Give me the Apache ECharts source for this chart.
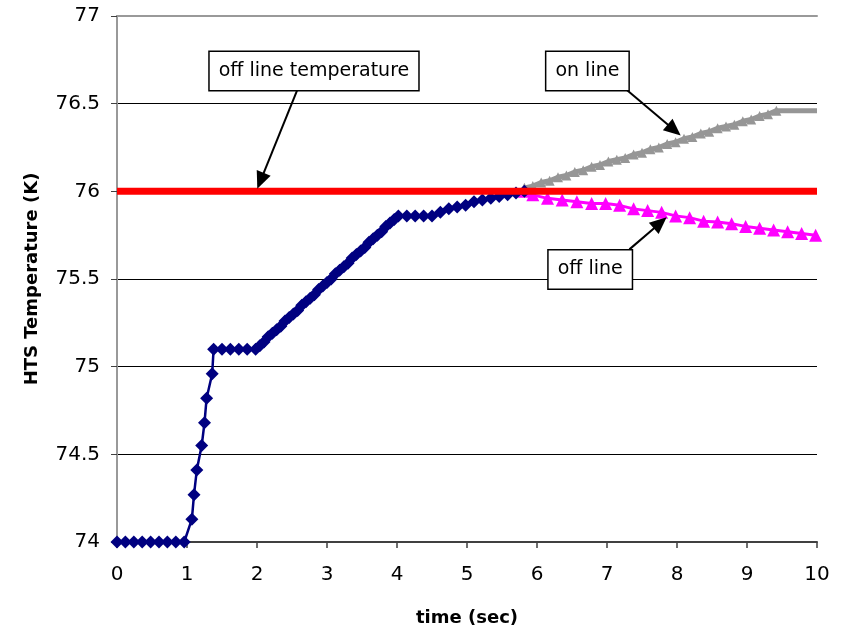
<!DOCTYPE html>
<html><head><meta charset="utf-8">
<script src="https://cdn.jsdelivr.net/npm/echarts@6/dist/echarts.min.js"></script>
<style>html,body{margin:0;padding:0;background:#fff}#c{width:841px;height:632px}</style>
</head><body><div id="c"></div>
<script>
// Blue: measured temperature (time, K)
const measuredT = [0,0.12,0.24,0.36,0.48,0.6,0.72,0.84,0.96,1.07,1.10,1.14,1.21,1.25,1.28,1.36,1.38,1.5,1.62,1.74,1.86,1.98,
  2.04,2.10,2.16,2.22,2.28,2.34,2.40,2.46,2.52,2.58,2.64,2.70,2.76,2.82,2.88,2.94,3.00,3.06,3.12,3.18,3.24,3.30,
  3.36,3.42,3.48,3.54,3.60,3.66,3.72,3.78,3.84,3.90,3.96,4.02,4.14,4.26,4.38,4.50,
  4.62,4.74,4.86,4.98,5.10,5.22,5.34,5.46,5.58,5.70,5.82];
const measuredK = [74,74,74,74,74,74,74,74,74,74.13,74.27,74.41,74.55,74.68,74.82,74.96,75.10,75.10,75.10,75.10,75.10,75.10,
  75.12,75.14,75.17,75.19,75.21,75.23,75.26,75.28,75.30,75.32,75.35,75.37,75.39,75.41,75.44,75.46,75.48,75.50,75.53,75.55,75.57,75.59,
  75.62,75.64,75.66,75.68,75.71,75.73,75.75,75.77,75.80,75.82,75.84,75.86,75.86,75.86,75.86,75.86,
  75.88,75.90,75.91,75.92,75.94,75.95,75.96,75.97,75.98,75.99,76.00];
// Gray: on line
const onLineT = [5.82,5.94,6.06,6.18,6.30,6.42,6.54,6.66,6.78,6.90,7.02,7.14,7.26,7.38,7.50,7.62,7.74,7.86,7.98,8.10,
  8.22,8.34,8.46,8.58,8.70,8.82,8.94,9.06,9.18,9.30,9.42,10.0];
const onLineK = [76.02,76.03,76.05,76.06,76.08,76.09,76.11,76.12,76.14,76.15,76.17,76.18,76.19,76.21,76.22,76.24,76.25,76.27,76.28,76.30,
  76.31,76.33,76.34,76.36,76.37,76.38,76.40,76.41,76.43,76.44,76.46,76.46];
// Magenta: off line
const offLineT = [5.82,5.94,6.15,6.36,6.57,6.78,6.98,7.18,7.38,7.58,7.78,7.98,8.18,8.38,8.58,8.78,8.98,9.18,9.38,9.58,9.78,9.98];
const offLineK = [76.00,75.98,75.96,75.95,75.94,75.93,75.93,75.92,75.90,75.89,75.88,75.86,75.85,75.83,75.825,75.815,75.80,75.79,75.78,75.77,75.76,75.75];
// Red: off line temperature threshold
const thresholdT = [0,10];
const thresholdK = [76,76];
const xTicks = {min:0, max:10, interval:1};
const yTicks = {min:74, max:77, interval:0.5};

const pair = (a,b)=>a.map((v,i)=>[v,b[i]]);
const FONT = 'DejaVu Sans';
const boxLabel = {show:true, position:'inside', color:'#000', fontFamily:FONT, fontSize:19, lineHeight:22,
  backgroundColor:'#fff', borderColor:'#000', borderWidth:1.5, padding:[8,9,8,9], formatter:p=>p.name};
const arrowLine = {color:'#000', width:2, type:'solid'};
const onLast = onLineT.length - 1;

const chart = echarts.init(document.getElementById('c'), null, {renderer:'canvas'});
chart.setOption({
  animation:false,
  backgroundColor:'#fff',
  grid:{left:117, right:24, top:16, bottom:90},
  xAxis:[{type:'value', min:xTicks.min, max:xTicks.max, interval:xTicks.interval,
    name:'time (sec)', nameLocation:'middle', nameGap:67,
    nameTextStyle:{fontFamily:FONT, fontSize:18, fontWeight:'bold', color:'#000'},
    axisLine:{lineStyle:{color:'#404040', width:2}},
    axisTick:{show:true, length:6, lineStyle:{color:'#404040', width:1.5}},
    axisLabel:{fontFamily:FONT, fontSize:20, color:'#000', margin:23},
    splitLine:{show:false}},
   {type:'value', position:'top', min:xTicks.min, max:xTicks.max, interval:xTicks.interval,
    axisLine:{show:true, lineStyle:{color:'#999', width:2}}, axisTick:{show:false},
    axisLabel:{show:false}, splitLine:{show:false}}],
  yAxis:[{type:'value', min:yTicks.min, max:yTicks.max, interval:yTicks.interval,
    name:'HTS Temperature (K)', nameLocation:'middle', nameGap:76, nameRotate:90,
    nameTextStyle:{fontFamily:FONT, fontSize:18, fontWeight:'bold', color:'#000'},
    axisLine:{show:true, lineStyle:{color:'#404040', width:1.5}},
    axisTick:{show:true, length:6, lineStyle:{color:'#404040'}},
    axisLabel:{fontFamily:FONT, fontSize:20, color:'#000', margin:17},
    splitLine:{show:true, lineStyle:{color:'#000', width:1}}},
   {type:'value', position:'right', min:yTicks.min, max:yTicks.max, interval:yTicks.interval,
    axisLine:{show:true, lineStyle:{color:'#999', width:2}}, axisTick:{show:false},
    axisLabel:{show:false}, splitLine:{show:false}}],
  series:[
    {name:'measured', type:'line', data:pair(measuredT, measuredK), symbol:'diamond', symbolSize:13,
     itemStyle:{color:'#000080'}, lineStyle:{color:'#000080', width:2.5}, z:3},
    {name:'on line', type:'line', data:pair(onLineT, onLineK),
     symbol:(v,p)=>p.dataIndex===onLast?'none':'triangle', symbolSize:10,
     itemStyle:{color:'#969696'}, lineStyle:{color:'#969696', width:5}, z:2},
    {name:'off line', type:'line', data:pair(offLineT, offLineK), symbol:'triangle', symbolSize:13,
     itemStyle:{color:'#ff00ff'}, lineStyle:{color:'#ff00ff', width:3}, z:2},
    {name:'off line temperature', type:'line', data:pair(thresholdT, thresholdK), symbol:'none',
     lineStyle:{color:'#ff0000', width:7}, z:4,
     markLine:{silent:true, symbol:['none','triangle'], symbolSize:[15,17], label:{show:false},
       lineStyle:arrowLine, animation:false,
       data:[
         [{coord:[2.586,76.589]},{coord:[2.05,76.06]}],
         [{coord:[7.25,76.589]},{coord:[7.96,76.35]}],
         [{coord:[7.32,75.669]},{coord:[7.76,75.82]}]
       ]},
     markPoint:{silent:true, symbol:'rect', symbolSize:1, itemStyle:{color:'rgba(0,0,0,0)'},
       label:boxLabel,
       data:[
         {name:'off line temperature', coord:[2.814,76.686]},
         {name:'on line', coord:[6.72,76.686]},
         {name:'off line', coord:[6.76,75.554]}
       ]}}
  ]
});
</script></body></html>
